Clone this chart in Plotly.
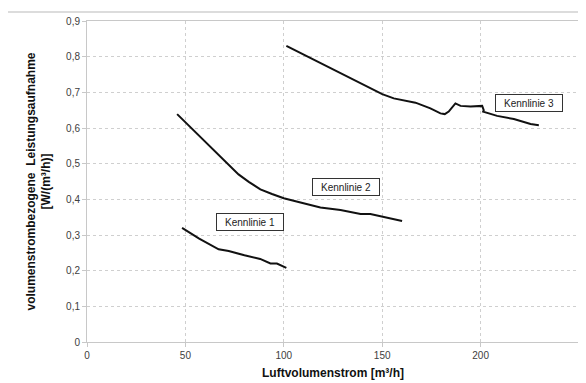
import plotly.graph_objects as go

# Kennlinie 1
k1_x = [48.3, 57, 66.9, 72, 80, 88, 93.2, 96.5, 101.3]
k1_y = [0.32, 0.29, 0.26, 0.255, 0.243, 0.233, 0.22, 0.22, 0.208]

# Kennlinie 2
k2_x = [45.8, 55, 63, 71.2, 77, 82.2, 88.1, 94, 100, 108.5, 118.6, 128.8, 139, 144, 149, 154, 160.1]
k2_y = [0.639, 0.59, 0.546, 0.501, 0.47, 0.449, 0.428, 0.415, 0.403, 0.391, 0.377, 0.37, 0.359, 0.359, 0.353, 0.347, 0.339]

# Kennlinie 3
k3_x = [101.3, 115, 130, 140, 150, 155.9, 166.9, 174.5, 179.6, 181.8, 183.8, 187.2, 189.8, 194.9, 200.8,
        201.6, 201.3, 208.4, 216.9, 225.4, 229.6]
k3_y = [0.83, 0.792, 0.752, 0.723, 0.695, 0.683, 0.671, 0.655, 0.641, 0.639, 0.646, 0.669, 0.662, 0.66, 0.662,
        0.65, 0.646, 0.634, 0.625, 0.611, 0.608]

labels = ["Kennlinie 1", "Kennlinie 2", "Kennlinie 3"]
label_x = [82.9, 131.5, 224.5]
label_y = [0.337, 0.434, 0.671]

x_title = "Luftvolumenstrom [m³/h]"
y_title_lines = ["volumenstrombezogene  Leistungsaufnahme", "[W/(m³/h)]"]

W, H = 578, 375
ML, MR, MT, MB = 79, 7, 13, 41
PW, PH = W - ML - MR, H - MT - MB

fig = go.Figure()
for xs, ys in [(k1_x, k1_y), (k2_x, k2_y), (k3_x, k3_y)]:
    fig.add_trace(go.Scatter(x=xs, y=ys, mode="lines",
                             line=dict(color="#111111", width=2), showlegend=False))

for t, lx, ly in zip(labels, label_x, label_y):
    fig.add_annotation(x=lx, y=ly, text=t, showarrow=False,
                       font=dict(family="Liberation Sans, Arial", size=10, color="#222222"),
                       bgcolor="white", bordercolor="#333333", borderwidth=1,
                       width=62, height=12, borderpad=2)

fig.add_annotation(xref="paper", yref="paper", x=(30 - ML) / PW, y=0.5,
                   text="<br>".join("<b>" + s + "</b>" for s in y_title_lines),
                   textangle=-90, showarrow=False,
                   font=dict(family="Liberation Sans, Arial", size=12, color="#111111"),
                   xanchor="center", yanchor="middle")

fig.add_annotation(xref="paper", yref="paper", x=0.5, y=-30.5 / PH,
                   text="<b>" + x_title + "</b>", showarrow=False,
                   font=dict(family="Liberation Sans, Arial", size=12, color="#111111"),
                   xanchor="center", yanchor="middle")

fig.add_shape(type="line", xref="paper", yref="paper",
              x0=-ML / PW, x1=1.02, y0=(PH + MT - 4) / PH, y1=(PH + MT - 4) / PH,
              line=dict(color="#dcdcdc", width=2))

axis_common = dict(showgrid=True, gridcolor="#cfcfcf", griddash="dot", gridwidth=1,
                   showline=True, linecolor="#c8c8c8", linewidth=1, mirror=True,
                   ticks="outside", ticklen=4, tickcolor="#c8c8c8",
                   zeroline=False,
                   tickfont=dict(family="Liberation Sans, Arial", size=10, color="#404040"))

fig.update_xaxes(range=[0, 250], dtick=50, tick0=0, **axis_common)
fig.update_yaxes(range=[0, 0.9], dtick=0.1, tick0=0, **axis_common)

fig.update_layout(width=W, height=H, margin=dict(l=ML, r=MR, t=MT, b=MB, autoexpand=False),
                  paper_bgcolor="white", plot_bgcolor="white", separators=",.")

fig.write_html("out.html")
